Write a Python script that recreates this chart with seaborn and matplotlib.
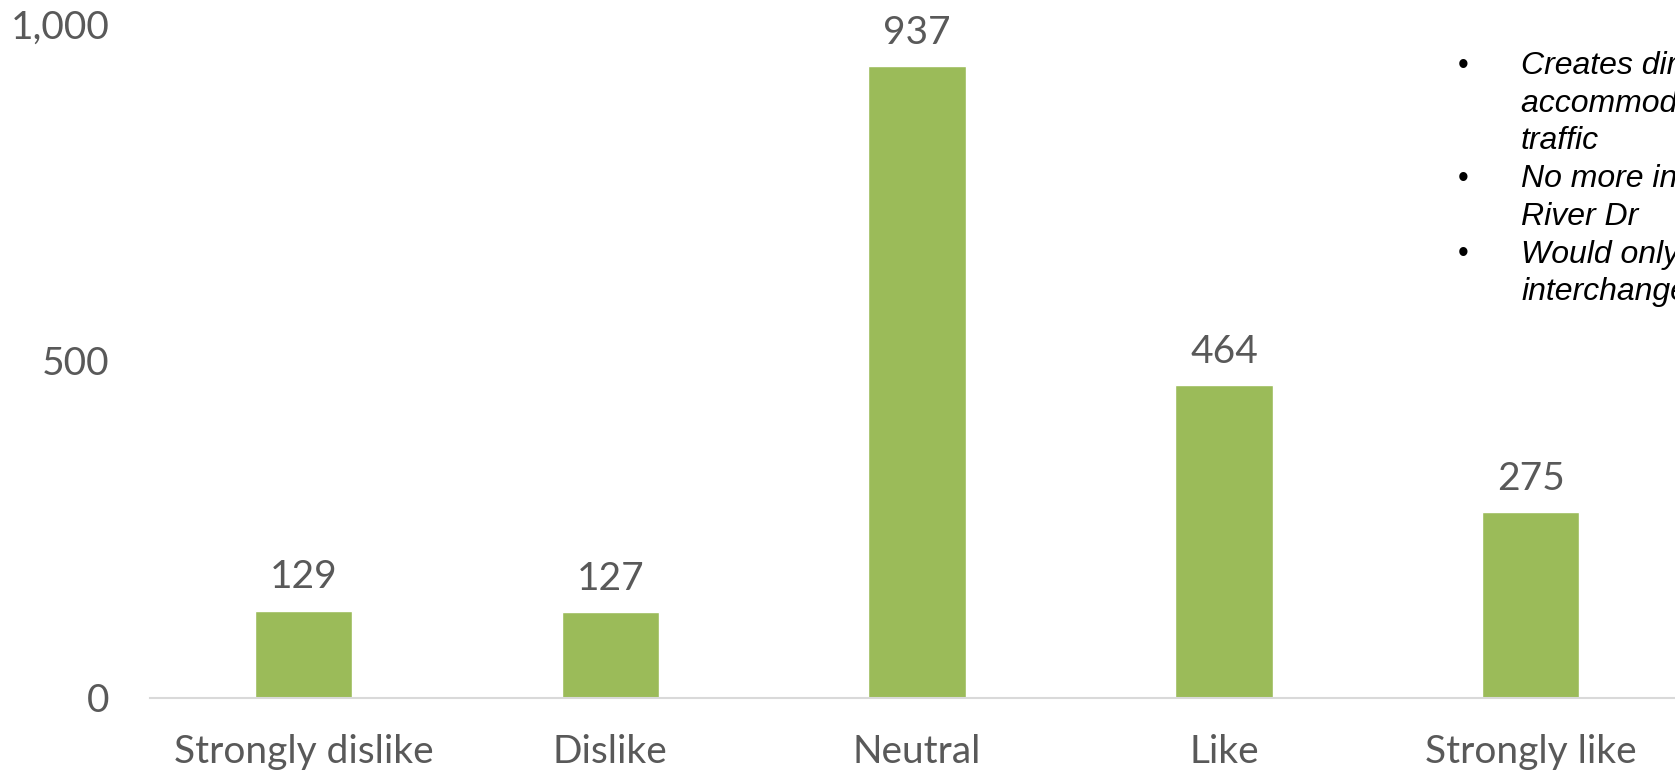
import matplotlib
matplotlib.use("Agg")
import matplotlib.pyplot as plt
import seaborn as sns
import pandas as pd

categories = ["Strongly dislike", "Dislike", "Neutral", "Like", "Strongly like"]
counts = [129, 127, 937, 464, 275]
y_ticks = [0, 500, 1000]
y_tick_labels = ["0", "500", "1,000"]
notes = [
    ("\u2022", "Creates direct connection to"),
    ("", "accommodate interstate"),
    ("", "traffic"),
    ("\u2022", "No more interchange at"),
    ("", "River Dr"),
    ("\u2022", "Would only be an"),
    ("", "interchange"),
]

sns.set_theme(style="white")
plt.rcParams["font.family"] = ["Lato", "DejaVu Sans"]

TXT = "#595959"
GREEN = "#9BBB59"

fig = plt.figure(figsize=(16.75, 7.76), dpi=100)
ax = fig.add_axes([150 / 1675, 1 - 697.6 / 776, 1 - 150 / 1675, (697.6 - 24) / 776])

df = pd.DataFrame({"category": categories, "count": counts})
sns.barplot(data=df, x="category", y="count", color=GREEN, saturation=1,
            width=0.317, ax=ax)

ax.set_xlim(-0.5, 4.47)
ax.set_ylim(0, 1000)
ax.set_yticks(y_ticks)
ax.set_yticklabels(y_tick_labels)
ax.set_xlabel("")
ax.set_ylabel("")
for s in ["top", "right", "left"]:
    ax.spines[s].set_visible(False)
ax.spines["bottom"].set_color("#D9D9D9")
ax.spines["bottom"].set_linewidth(1.5)
ax.tick_params(axis="y", length=0, pad=29, labelsize=28, labelcolor=TXT)
ax.tick_params(axis="x", length=0, pad=26, labelsize=28, labelcolor=TXT)

for c in ax.containers:
    ax.bar_label(c, labels=[str(v) for v in counts], padding=11,
                 fontsize=28, color=TXT)

# side notes (clipped at figure edge, as in the reference)
y0 = 66
for i, (b, t) in enumerate(notes):
    y = 1 - (y0 + i * 37.7) / 776
    if b:
        fig.text(1463 / 1675, y, b, fontsize=22, color="black",
                 family=["Liberation Sans"], va="center", ha="center")
    fig.text(1521 / 1675, y, t, fontsize=23, color="black", style="italic",
             family=["Liberation Sans"], va="center", ha="left")

fig.savefig("out.png", dpi=100)
